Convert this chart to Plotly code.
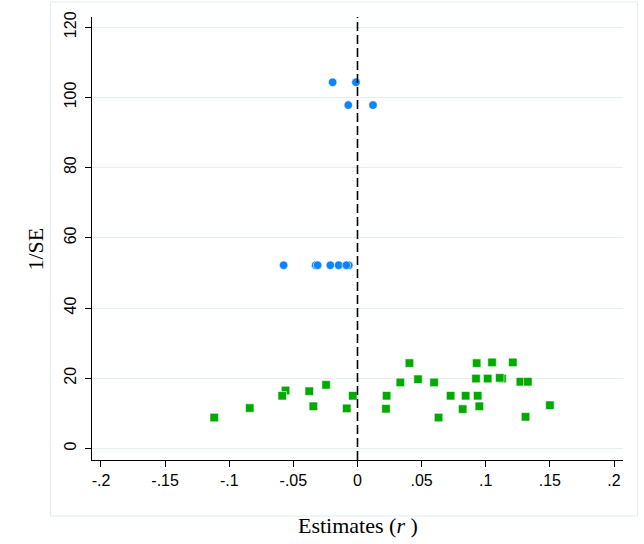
import plotly.graph_objects as go

# Blue (circle) group: estimates and precision (1/SE)
blue_r = [-0.0194, -0.0012, -0.0072, 0.0121,
          -0.0576, -0.0326, -0.0311, -0.0212, -0.0147, -0.0068, -0.0087]
blue_prec = [104.3, 104.3, 97.8, 97.8,
             52.2, 52.2, 52.2, 52.2, 52.2, 52.2, 52.2]

# Green (square) group
green_r = [-0.1117, -0.0840, -0.0561, -0.0587, -0.0376, -0.0344, -0.0245,
           -0.0084, -0.0037, 0.0227, 0.0222, 0.0334, 0.0405, 0.0472,
           0.0597, 0.0632, 0.0726, 0.0820, 0.0843, 0.0929, 0.0924,
           0.0937, 0.0950, 0.1015, 0.1049, 0.1127, 0.1109, 0.1211,
           0.1270, 0.1328, 0.1310, 0.1500]
green_prec = [8.8, 11.5, 16.5, 15.0, 16.3, 12.0, 18.1,
              11.4, 15.0, 15.0, 11.3, 18.8, 24.3, 19.7,
              18.8, 8.8, 15.0, 11.2, 15.0, 24.3, 19.9,
              15.0, 12.0, 19.9, 24.5, 19.9, 20.1, 24.5,
              19.0, 19.0, 9.0, 12.3]

x_ticks = [-0.2, -0.15, -0.1, -0.05, 0, 0.05, 0.1, 0.15, 0.2]
x_tick_labels = ["-.2", "-.15", "-.1", "-.05", "0", ".05", ".1", ".15", ".2"]
y_ticks = [0, 20, 40, 60, 80, 100, 120]
ref_line_x = 0

fig = go.Figure()
fig.add_trace(go.Scatter(
    x=green_r, y=green_prec, mode="markers",
    marker=dict(symbol="square", size=8.5, color="#00aa00",
                line=dict(color="white", width=0.6)),
    showlegend=False, hoverinfo="skip"))
fig.add_trace(go.Scatter(
    x=blue_r, y=blue_prec, mode="markers",
    marker=dict(symbol="circle", size=8.5, color="#0a84ff",
                line=dict(color="white", width=0.6)),
    showlegend=False, hoverinfo="skip"))

# vertical dashed reference line at r = 0
fig.add_shape(type="line", xref="x", yref="paper",
              x0=ref_line_x, x1=ref_line_x, y0=0, y1=1,
              line=dict(color="black", width=1.6, dash="9px,4px"))

# light outer frame (graph region)
fig.add_shape(type="rect", xref="paper", yref="paper",
              x0=-0.0783, x1=1.0272, y0=-0.1264, y1=1.0339,
              line=dict(color="#e3ebef", width=1), layer="below")

tick_font = dict(family="Liberation Sans, Arial, sans-serif", size=16, color="black")
title_font = dict(family="Liberation Serif, Times New Roman, serif", size=22, color="black")

fig.update_xaxes(
    range=[-0.207, 0.207], tickvals=x_ticks, ticktext=x_tick_labels,
    showgrid=False, zeroline=False,
    showline=True, linecolor="black", linewidth=1.2,
    ticks="outside", ticklen=6, tickwidth=1, tickcolor="black",
    tickfont=tick_font)
fig.update_yaxes(
    range=[-3.3, 122.9], tickvals=y_ticks,
    showgrid=True, gridcolor="#e6edf1", gridwidth=1, zeroline=False,
    showline=True, linecolor="black", linewidth=1.2,
    ticks="outside", ticklen=6, tickwidth=1, tickcolor="black",
    tickangle=-90, tickfont=tick_font, ticklabelstandoff=3)

fig.add_annotation(text="Estimates (<i>r</i> )", xref="paper", yref="paper",
                   x=0.5, y=-0.147, xanchor="center", yanchor="middle",
                   showarrow=False, font=title_font)
fig.add_annotation(text="1/SE", xref="paper", yref="paper",
                   x=-0.1066, y=0.476, xanchor="center", yanchor="middle",
                   textangle=-90, showarrow=False, font=title_font)

fig.update_layout(
    width=644, height=544,
    margin=dict(l=92, r=21, t=17, b=84, pad=0),
    paper_bgcolor="white", plot_bgcolor="white",
    showlegend=False)

fig.write_html("out.html")
